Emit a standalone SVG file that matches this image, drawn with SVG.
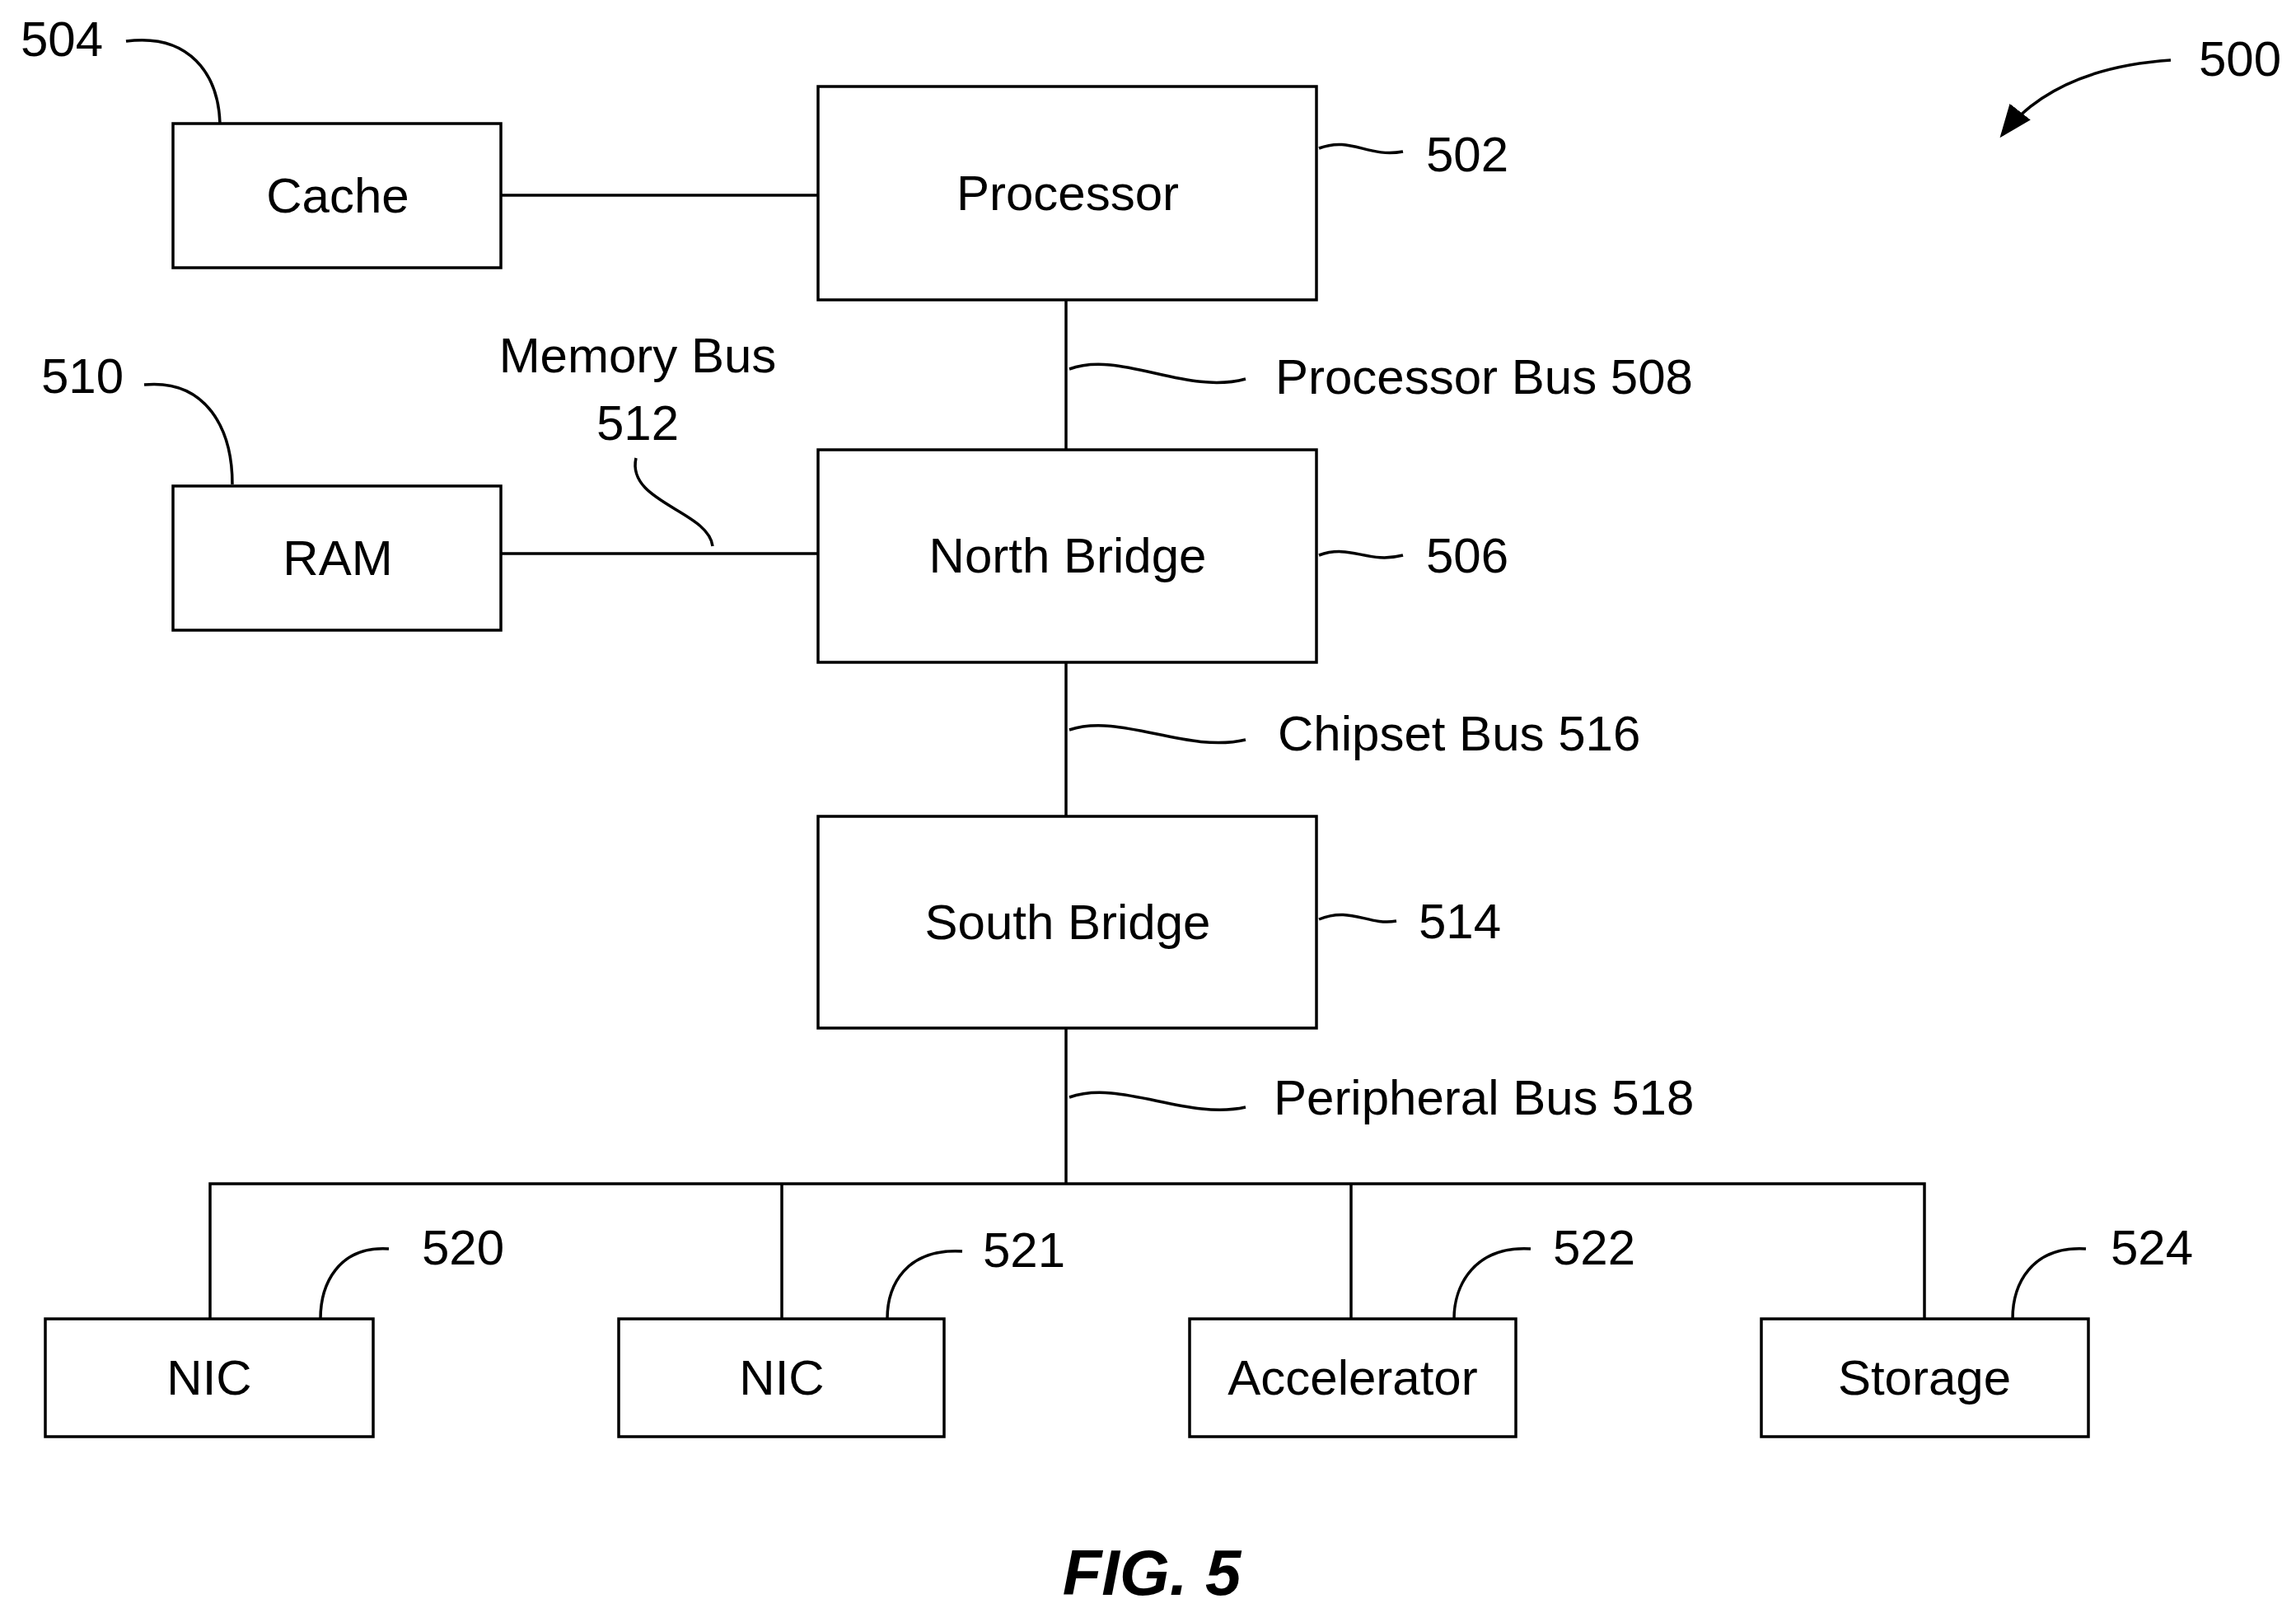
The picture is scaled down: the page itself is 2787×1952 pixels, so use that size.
<svg xmlns="http://www.w3.org/2000/svg" width="2787" height="1952" viewBox="0 0 2787 1952">
<style>
.b{fill:#fff;stroke:#000;stroke-width:3.5}
.l{fill:none;stroke:#000;stroke-width:3.5}
text{font-family:"Liberation Sans",Arial,sans-serif;font-size:60px;fill:#000}
.c{text-anchor:middle}
</style>
<defs><marker id="ah" viewBox="0 0 10 10" refX="9" refY="5" markerWidth="8" markerHeight="8" orient="auto" markerUnits="userSpaceOnUse"><path d="M0,0L10,5L0,10z" transform="scale(1)"/></marker>
<marker id="ah2" viewBox="0 0 10 10" refX="9" refY="5" markerWidth="40" markerHeight="40" orient="auto" markerUnits="userSpaceOnUse"><path d="M0,1L10,5L0,9z"/></marker></defs>
<g id="connectors">
<line class="l" x1="608" y1="237" x2="993" y2="237"/>
<line class="l" x1="1294" y1="364" x2="1294" y2="546"/>
<line class="l" x1="608" y1="672" x2="993" y2="672"/>
<line class="l" x1="1294" y1="804" x2="1294" y2="991"/>
<line class="l" x1="1294" y1="1248" x2="1294" y2="1437"/>
<polyline class="l" points="255,1601 255,1437 2336,1437 2336,1601"/>
<line class="l" x1="949" y1="1437" x2="949" y2="1601"/>
<line class="l" x1="1640" y1="1437" x2="1640" y2="1601"/>
</g>
<g id="leaders">
<path class="l" d="M153,50 C230,40 265,90 267,150"/>
<path class="l" d="M2635,73 C2560,78 2480,100 2430,164" marker-end="url(#ah2)"/>
<path class="l" d="M1601,180 C1640,165 1660,192 1703,184"/>
<path class="l" d="M1298,448 C1360,425 1440,480 1512,460"/>
<path class="l" d="M772,556 C760,610 860,620 865,663"/>
<path class="l" d="M175,467 C250,460 282,520 282,588"/>
<path class="l" d="M1601,674 C1640,660 1660,685 1703,674"/>
<path class="l" d="M1298,886 C1360,865 1440,915 1512,898"/>
<path class="l" d="M1601,1116 C1640,1100 1660,1124 1695,1118"/>
<path class="l" d="M1298,1332 C1360,1310 1440,1360 1512,1344"/>
<path class="l" d="M472,1516 C410,1512 389,1560 389,1601"/>
<path class="l" d="M1168,1519 C1100,1515 1077,1560 1077,1601"/>
<path class="l" d="M1858,1516 C1790,1512 1765,1560 1765,1601"/>
<path class="l" d="M2532,1516 C2465,1512 2443,1560 2443,1601"/>
</g>
<g id="cache"><rect class="b" x="210" y="150" width="398" height="175"/><text class="c" x="410" y="258">Cache</text></g>
<g id="processor"><rect class="b" x="993" y="105" width="605" height="259"/><text class="c" x="1296" y="255">Processor</text></g>
<g id="ram"><rect class="b" x="210" y="590" width="398" height="175"/><text class="c" x="410" y="698">RAM</text></g>
<g id="northbridge"><rect class="b" x="993" y="546" width="605" height="258"/><text class="c" x="1296" y="695">North Bridge</text></g>
<g id="southbridge"><rect class="b" x="993" y="991" width="605" height="257"/><text class="c" x="1296" y="1140">South Bridge</text></g>
<g id="nic1"><rect class="b" x="55" y="1601" width="398" height="143"/><text class="c" x="254" y="1693">NIC</text></g>
<g id="nic2"><rect class="b" x="751" y="1601" width="395" height="143"/><text class="c" x="949" y="1693">NIC</text></g>
<g id="accel"><rect class="b" x="1444" y="1601" width="396" height="143"/><text class="c" x="1642" y="1693">Accelerator</text></g>
<g id="storage"><rect class="b" x="2138" y="1601" width="397" height="143"/><text class="c" x="2336" y="1693">Storage</text></g>
<g id="labels">
<text class="c" x="75" y="68">504</text>
<text class="c" x="2719" y="92">500</text>
<text class="c" x="1781" y="208">502</text>
<text x="1548" y="478">Processor Bus 508</text>
<text class="c" x="774" y="452">Memory Bus</text>
<text class="c" x="774" y="534">512</text>
<text class="c" x="100" y="477">510</text>
<text class="c" x="1781" y="695">506</text>
<text x="1551" y="911">Chipset Bus 516</text>
<text class="c" x="1772" y="1139">514</text>
<text x="1546" y="1353">Peripheral Bus 518</text>
<text class="c" x="562" y="1535">520</text>
<text class="c" x="1243" y="1538">521</text>
<text class="c" x="1935" y="1535">522</text>
<text class="c" x="2612" y="1535">524</text>
<text class="c" x="1398" y="1936" style="font-size:78px;font-weight:bold;font-style:italic">FIG. 5</text>
</g>
</svg>
